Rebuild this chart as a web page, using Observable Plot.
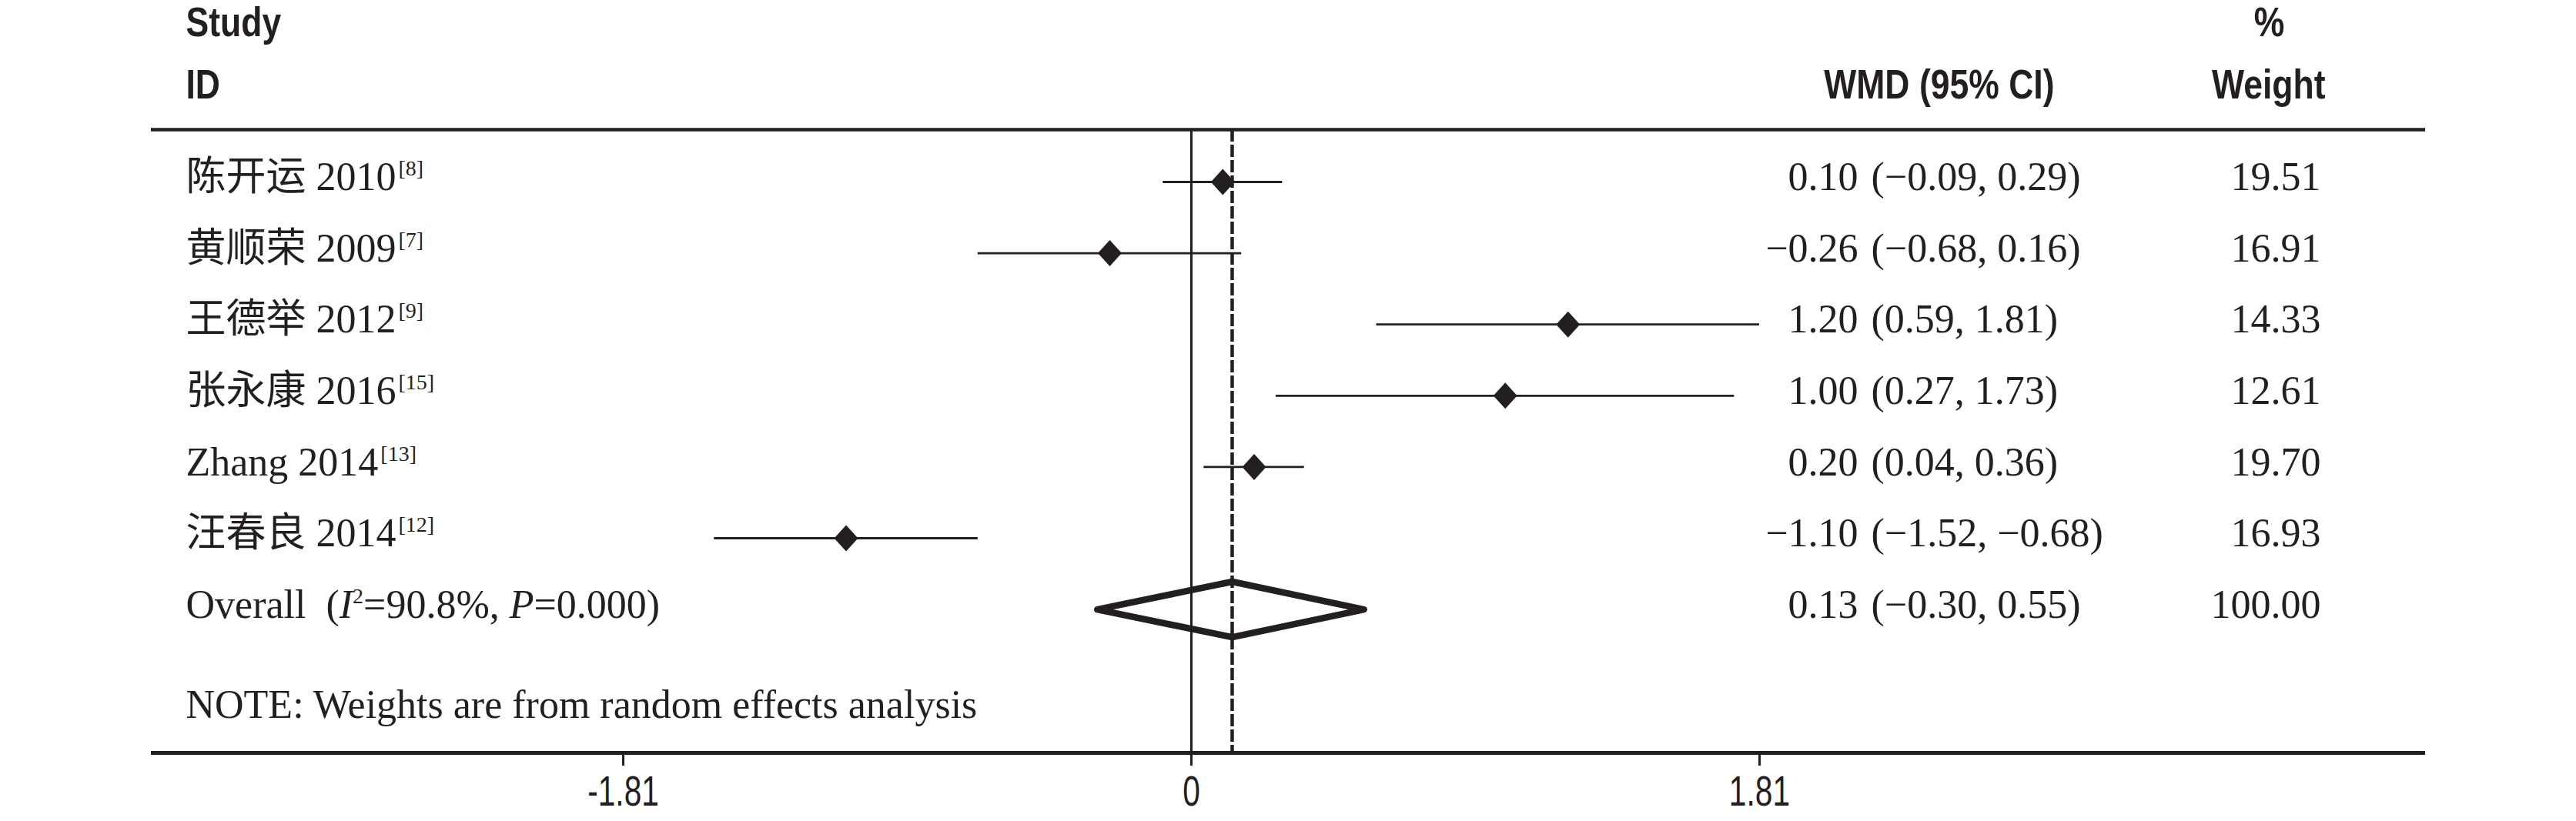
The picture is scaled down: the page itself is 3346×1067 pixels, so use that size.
<!DOCTYPE html>
<html>
<head>
<meta charset="utf-8">
<script src="https://cdn.jsdelivr.net/npm/d3@7"></script>
<script src="https://cdn.jsdelivr.net/npm/@observablehq/plot@0.6"></script>
<style>
  html, body { margin: 0; padding: 0; background: #ffffff; }
  #chart svg { display: block; }
</style>
</head>
<body>
<div id="chart"></div>
<script>
// ---- data ----
const studies = ["陈开运 2010", "黄顺荣 2009", "王德举 2012", "张永康 2016", "Zhang 2014", "汪春良 2014"];
const refs = ["[8]", "[7]", "[9]", "[15]", "[13]", "[12]"];
const wmd = [0.10, -0.26, 1.20, 1.00, 0.20, -1.10];
const lower = [-0.09, -0.68, 0.59, 0.27, 0.04, -1.52];
const upper = [0.29, 0.16, 1.81, 1.73, 0.36, -0.68];
const weights = ["19.51", "16.91", "14.33", "12.61", "19.70", "16.93"];
const overallLabel = "Overall";
const overallWmd = 0.13;
const overallLower = -0.30;
const overallUpper = 0.55;
const overallWeight = "100.00";
const overallI2 = "90.8%";
const overallP = "0.000";
const noteText = "NOTE: Weights are from random effects analysis";
const xTicks = [-1.81, 0, 1.81];
const tickLabels = ["-1.81", "0", "1.81"];
const headerStudy = ["Study", "ID"];
const headerWmd = "WMD (95% CI)";
const headerWeight = ["%", "Weight"];

// ---- build table ----
const fmt = v => (v < 0 ? "\u2212" : "") + Math.abs(v).toFixed(2);
const rows = studies.map((s, i) => ({
  row: i + 1, label: s, ref: refs[i], est: wmd[i], lo: lower[i], hi: upper[i], w: weights[i]
}));
const overallRow = rows.length + 1;
const overallText = `${overallLabel}  (I2=${overallI2}, P=${overallP})`;
const allRows = [
  ...rows,
  {row: overallRow, label: overallText, est: overallWmd, lo: overallLower, hi: overallUpper, w: overallWeight}
];
const diamondHalf = 0.39;
const overallPoly = [
  {x: overallLower, y: overallRow},
  {x: overallWmd, y: overallRow - diamondHalf},
  {x: overallUpper, y: overallRow},
  {x: overallWmd, y: overallRow + diamondHalf}
];

const ink = "#231f20";
const serif = "'Liberation Serif', 'Noto Sans CJK SC', serif";
const sans = "'Liberation Sans', Arial, sans-serif";
const yTop = 0.2657, yBottom = 9.013;

const pointDiamond = {
  draw(ctx) {
    const w = 15.5, h = 17;
    ctx.moveTo(0, -h); ctx.lineTo(w, 0); ctx.lineTo(0, h); ctx.lineTo(-w, 0); ctx.closePath();
  }
};

const serifText = {fontFamily: serif, fontSize: 52, fill: ink, lineAnchor: "middle"};
const headText = {fontFamily: sans, fontWeight: "bold", fontSize: 53, fill: ink, lineAnchor: "middle"};

const chart = Plot.plot({
  width: 3346,
  height: 1067,
  marginLeft: 196,
  marginRight: 196,
  marginTop: 168,
  marginBottom: 89,
  style: {background: "#ffffff", color: ink, overflow: "visible"},
  x: {domain: [-3.3137, 3.9318], axis: null},
  y: {domain: [yTop, yBottom], reverse: true, axis: null},
  marks: [
    Plot.ruleY([yTop], {stroke: ink, strokeWidth: 4.5}),
    Plot.ruleY([yBottom], {stroke: ink, strokeWidth: 5}),
    Plot.ruleX([0], {stroke: ink, strokeWidth: 3}),
    Plot.ruleX([overallWmd], {stroke: ink, strokeWidth: 4.5, strokeDasharray: "16,4"}),
    Plot.ruleY(rows, {y: "row", x1: "lo", x2: "hi", stroke: ink, strokeWidth: 2.8}),
    Plot.dot(rows, {x: "est", y: "row", symbol: pointDiamond, fill: ink, stroke: "none", r: 10}),
    Plot.line(overallPoly, {x: "x", y: "y", curve: "linear-closed", stroke: ink, strokeWidth: 8.5, fill: "none"}),
    // study labels
    Plot.text(allRows, {y: "row", text: "label", frameAnchor: "left", textAnchor: "start", dx: 45, dy: -6, ...serifText}),
    // estimates
    Plot.text(allRows, {y: "row", text: d => fmt(d.est), frameAnchor: "left", textAnchor: "end", dx: 2217, dy: -6, ...serifText}),
    Plot.text(allRows, {y: "row", text: d => `(${fmt(d.lo)}, ${fmt(d.hi)})`, frameAnchor: "left", textAnchor: "start", dx: 2234, dy: -6, ...serifText}),
    // weights
    Plot.text(allRows, {y: "row", text: "w", frameAnchor: "right", textAnchor: "end", dx: -136, dy: -6, ...serifText}),
    // note
    Plot.text([noteText], {text: d => d, frameAnchor: "bottom-left", textAnchor: "start", dx: 45, dy: -62, ...serifText}),
    // headers
    Plot.text([headerStudy[0]], {text: d => d, frameAnchor: "top-left", textAnchor: "start", dx: 45, dy: -138, ...headText}),
    Plot.text([headerStudy[1]], {text: d => d, frameAnchor: "top-left", textAnchor: "start", dx: 45, dy: -57, ...headText}),
    Plot.text([headerWmd], {text: d => d, frameAnchor: "top-left", textAnchor: "end", dx: 2472, dy: -57, ...headText}),
    Plot.text([headerWeight[0]], {text: d => d, frameAnchor: "top-right", textAnchor: "middle", dx: -203, dy: -138, ...headText}),
    Plot.text([headerWeight[1]], {text: d => d, frameAnchor: "top-right", textAnchor: "end", dx: -130, dy: -57, ...headText}),
    Plot.axisX(xTicks, {
      tickFormat: d => tickLabels[xTicks.indexOf(d)],
      tickSize: 17, tickPadding: 12, fontSize: 55, fontFamily: sans,
      color: ink, strokeWidth: 3, label: null
    })
  ]
});

// ---- post-process: superscripts, italics, condensed sans ----
const SVGNS = "http://www.w3.org/2000/svg";
function tspan(parent, txt, attrs = {}) {
  const t = document.createElementNS(SVGNS, "tspan");
  for (const [k, v] of Object.entries(attrs)) t.setAttribute(k, v);
  t.setAttribute("fill", ink);
  t.textContent = txt;
  parent.appendChild(t);
  return t;
}
const refMap = new Map(rows.map(d => [d.label, d.ref]));
const headerSet = new Set([...headerStudy, headerWmd, ...headerWeight]);
const tickSet = new Set(tickLabels);
function condense(el, k) {
  const tr = el.getAttribute("transform");
  if (tr) {
    el.setAttribute("transform", tr + ` scale(${k},1)`);
  } else {
    const x = +el.getAttribute("x") || 0, y = +el.getAttribute("y") || 0;
    el.removeAttribute("x"); el.removeAttribute("y");
    el.setAttribute("transform", `translate(${x},${y}) scale(${k},1)`);
  }
}
chart.querySelectorAll("text").forEach(el => {
  const s = el.textContent;
  if (refMap.has(s)) {
    tspan(el, refMap.get(s), {"font-size": 28, dy: -19, dx: 3});
  } else if (s === overallText) {
    el.textContent = "";
    tspan(el, `${overallLabel}\u00a0\u00a0(`);
    tspan(el, "I", {"font-style": "italic"});
    tspan(el, "2", {"font-size": 28, dy: -19});
    tspan(el, `=${overallI2}, `, {dy: 19});
    tspan(el, "P", {"font-style": "italic"});
    tspan(el, `=${overallP})`);
  } else if (headerSet.has(s)) {
    condense(el, 0.84);
  } else if (tickSet.has(s)) {
    condense(el, 0.74);
  }
});

document.getElementById("chart").appendChild(chart);
</script>
</body>
</html>
